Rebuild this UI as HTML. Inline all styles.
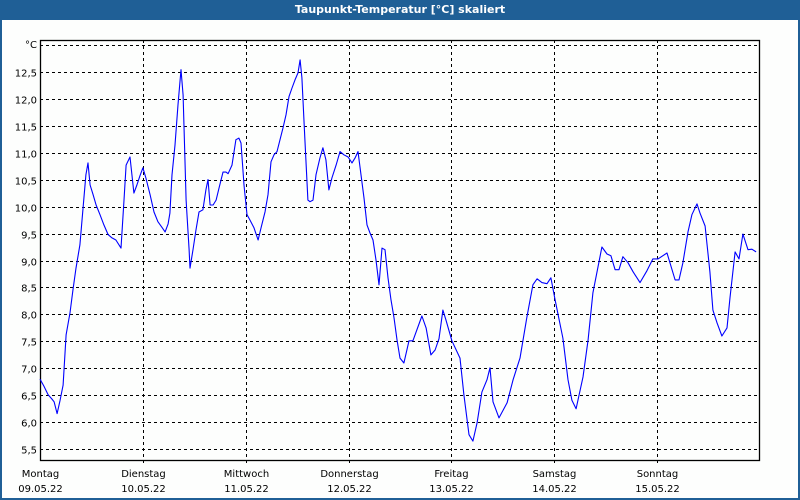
<!DOCTYPE html>
<html><head><meta charset="utf-8"><style>
html,body{margin:0;padding:0;background:#fff;}
#wrap{position:relative;width:796px;height:478px;border:2px solid #1f5f96;border-top:none;background:#fdfefd;margin-top:20px;}
#title{position:absolute;left:0;top:0;width:800px;height:20px;background:#1f5f96;color:#fff;font:bold 11px "DejaVu Sans","Liberation Sans",sans-serif;text-align:center;line-height:19px;}
svg{position:absolute;left:0;top:0;}
text{font-family:"DejaVu Sans","Liberation Sans",sans-serif;font-size:10px;fill:#000;}
</style></head><body>
<div id="title">Taupunkt-Temperatur [°C] skaliert</div>
<div id="wrap"></div>
<svg id="chart" width="800" height="500"></svg>
<script>
const hours = [0,0.9,1.9,2.8,3.3,4.0,4.7,5.4,6.1,7.0,7.7,8.4,9.3,10.0,10.7,11.2,11.7,12.4,13.1,14.0,14.9,15.9,16.8,17.7,18.9,19.6,20.1,21.0,21.9,22.6,23.3,24.0,24.7,25.7,26.6,27.5,28.5,29.2,29.9,30.3,30.8,31.5,32.2,32.9,33.4,34.1,34.8,35.0,35.7,36.4,37.1,38.0,38.7,39.2,39.7,40.4,41.1,41.8,42.7,43.4,43.9,44.8,45.7,46.4,46.9,47.6,48.3,49.0,49.9,50.9,51.6,52.5,53.2,53.9,54.6,55.3,56.0,56.7,57.4,58.1,58.8,59.5,60.2,60.7,61.1,61.8,62.5,63.0,63.7,64.4,65.3,66.0,66.7,67.4,68.1,69.1,70.0,70.9,71.9,72.8,73.5,74.2,74.9,75.6,76.3,77.0,77.7,78.4,79.1,79.8,80.5,81.2,81.9,82.6,83.3,84.0,84.9,86.1,87.0,89.1,90.1,91.2,92.2,93.1,94.0,94.7,96.1,98.0,98.9,100.1,101.0,102.0,103.1,104.3,105.0,105.7,107.1,109.0,110.4,112.0,113.6,115.0,116.0,117.1,118.3,119.2,120.2,122.0,123.2,124.1,125.1,126.7,127.9,129.0,131.1,132.3,133.2,134.2,135.1,136.0,137.2,138.4,140.0,141.6,143.0,144.2,146.3,148.2,149.1,150.0,151.2,152.1,153.3,154.0,155.2,156.3,157.0,158.0,159.1,160.3,161.0,162.2,163.1,164.0,165.2,166.1,167.1];
const temps = [6.80,6.67,6.51,6.43,6.38,6.16,6.41,6.69,7.62,8.03,8.46,8.86,9.29,9.94,10.59,10.81,10.40,10.22,10.03,9.85,9.66,9.48,9.42,9.38,9.23,10.12,10.77,10.92,10.25,10.40,10.57,10.72,10.53,10.22,9.90,9.72,9.61,9.53,9.68,9.88,10.59,11.14,11.89,12.54,12.07,10.12,9.20,8.86,9.20,9.57,9.90,9.94,10.31,10.50,10.03,10.03,10.12,10.35,10.64,10.64,10.61,10.77,11.24,11.27,11.18,10.40,9.85,9.75,9.61,9.38,9.61,9.90,10.22,10.83,10.96,11.02,11.24,11.46,11.70,12.04,12.20,12.35,12.48,12.72,12.39,11.24,10.12,10.09,10.12,10.59,10.90,11.09,10.87,10.31,10.53,10.77,11.02,10.96,10.92,10.81,10.90,11.02,10.59,10.16,9.66,9.51,9.38,9.01,8.55,9.23,9.20,8.68,8.27,7.94,7.53,7.19,7.10,7.51,7.51,7.97,7.75,7.25,7.34,7.55,8.08,7.90,7.51,7.19,6.51,5.77,5.65,5.99,6.56,6.79,7.01,6.38,6.08,6.36,6.79,7.19,7.95,8.55,8.66,8.59,8.57,8.68,8.27,7.56,6.79,6.41,6.25,6.84,7.53,8.40,9.25,9.12,9.09,8.83,8.83,9.07,8.96,8.79,8.59,8.81,9.03,9.03,9.14,8.64,8.64,8.96,9.53,9.85,10.05,9.88,9.64,8.79,8.08,7.84,7.60,7.75,8.31,9.16,9.03,9.49,9.20,9.21,9.16];
const yTicks = ["5,5","6,0","6,5","7,0","7,5","8,0","8,5","9,0","9,5","10,0","10,5","11,0","11,5","12,0","12,5"];
const yTickValues = [5.5,6.0,6.5,7.0,7.5,8.0,8.5,9.0,9.5,10.0,10.5,11.0,11.5,12.0,12.5,13.0];
const dayNames = ["Montag","Dienstag","Mittwoch","Donnerstag","Freitag","Samstag","Sonntag"];
const dayDates = ["09.05.22","10.05.22","11.05.22","12.05.22","13.05.22","14.05.22","15.05.22"];

const L=40,R=760,T=40,B=460, H0=0,H1=168, V0=5.3, V1=13.09;
const xs=h=>L+(h-H0)/(H1-H0)*(R-L);
const ys=v=>B-(v-V0)/(V1-V0)*(B-T);
const svg=document.getElementById('chart');
const NS='http://www.w3.org/2000/svg';
function mk(tag,attrs){const e=document.createElementNS(NS,tag);for(const k in attrs)e.setAttribute(k,attrs[k]);svg.appendChild(e);return e;}

yTickValues.forEach((v,i)=>{
  const y=Math.round(ys(v))+0.5;
  const g=mk('line',{x1:L,x2:R,y1:y,y2:y,stroke:'#000','stroke-width':1,'stroke-dasharray':'3,3'});
  
  
  if(i<yTicks.length){
    const t=mk('text',{x:37,y:y+4,'text-anchor':'end'});
    t.textContent=yTicks[i];
    
    
  }
});
const u=mk('text',{x:37,y:48,'text-anchor':'end'});
u.textContent='°C';



dayNames.forEach((d,i)=>{
  const x=Math.round(xs(i*24))+0.5;
  if(i>0){
    const g=mk('line',{x1:x,x2:x,y1:T,y2:B+3,stroke:'#000','stroke-width':1,'stroke-dasharray':'3,3'});
    
    
  }
  const t=mk('text',{x:x,y:477,'text-anchor':'middle'});
  t.textContent=d;
  
  
  const t2=mk('text',{x:x,y:492,'text-anchor':'middle'});
  t2.textContent=dayDates[i];
  
  
});

const box=mk('rect',{x:L+0.5,y:T+0.5,width:R-L-1,height:B-T,fill:'none',stroke:'#000','stroke-width':1.3});



const pts=hours.map((h,i)=>xs(h).toFixed(1)+','+ys(temps[i]).toFixed(1)).join(' ');
const line=mk('polyline',{points:pts,fill:'none',stroke:'#0000ff','stroke-width':1.1,'stroke-linejoin':'round'});


</script>
</body></html>
